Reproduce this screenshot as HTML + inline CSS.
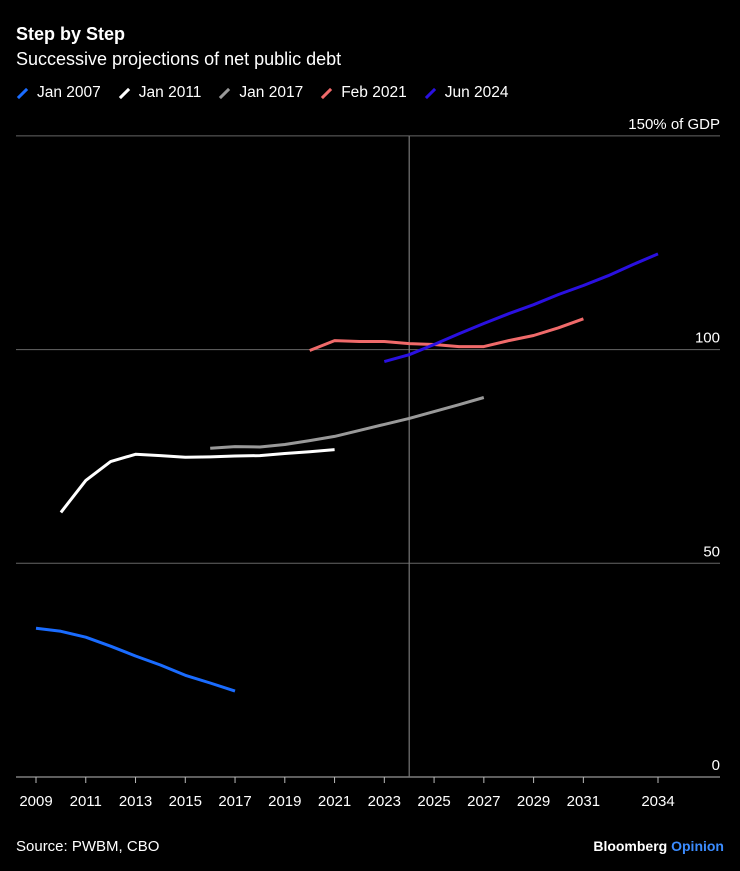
<!DOCTYPE html>
<html><head><meta charset="utf-8">
<style>
html,body{margin:0;padding:0;background:#000;width:740px;height:871px;overflow:hidden;font-family:"Liberation Sans",Arial,sans-serif;color:#fff}
#title{position:absolute;left:16px;top:24px;font-size:18px;font-weight:bold}
#subtitle{position:absolute;left:16px;top:49px;font-size:18px}
#legend{position:absolute;left:16px;top:84px;font-size:15.5px;display:flex;gap:17px}
.li{display:flex;align-items:center;gap:8px}
.sw{width:13px;height:3px;transform:rotate(-45deg)}
#source{position:absolute;left:16px;top:838px;font-size:15px}
#brand{position:absolute;right:16px;top:838px;font-size:14px;font-weight:bold}
svg{position:absolute;left:0;top:0}
</style></head><body>
<div id="title">Step by Step</div>
<div id="subtitle">Successive projections of net public debt</div>
<div id="legend">
<div class="li"><div class="sw" style="background:#1a6cff"></div>Jan 2007</div>
<div class="li"><div class="sw" style="background:#fff"></div>Jan 2011</div>
<div class="li"><div class="sw" style="background:#999"></div>Jan 2017</div>
<div class="li"><div class="sw" style="background:#f06a6a"></div>Feb 2021</div>
<div class="li"><div class="sw" style="background:#2a10e0"></div>Jun 2024</div>
</div>
<svg id="chart" width="740" height="871"></svg>
<div id="source">Source: PWBM, CBO</div>
<div id="brand">Bloomberg <span style="color:#3b8cff">Opinion</span></div>
<script>
const yTicks=[0,50,100,150];
const yTickLabels=["0","50","100","150% of GDP"];
const xTicks=[2009,2011,2013,2015,2017,2019,2021,2023,2025,2027,2029,2031,2034];
const markerYear=2024;
const names=["jan-2007","jan-2011","jan-2017","feb-2021","jun-2024"];
const colors=["#1a6cff","#ffffff","#999999","#f06a6a","#2a10e0"];
const startYears=[2009,2010,2016,2020,2023];
const s2007=[34.8,34.1,32.7,30.6,28.3,26.2,23.8,22.0,20.1];
const s2011=[61.9,69.4,73.8,75.5,75.2,74.8,74.9,75.1,75.2,75.7,76.1,76.6];
const s2017=[76.9,77.3,77.2,77.8,78.7,79.7,81.1,82.5,83.9,85.5,87.1,88.8];
const s2021=[99.8,102.1,101.9,101.9,101.4,101.2,100.7,100.7,102.1,103.3,105.1,107.2];
const s2024=[97.2,98.8,101.2,103.7,106.1,108.4,110.5,112.9,115.0,117.3,119.9,122.4];
const series=[s2007,s2011,s2017,s2021,s2024];
const X=y=>36+(y-2009)*24.88;
const Y=v=>777-v*4.274;
const NS="http://www.w3.org/2000/svg";
const svg=document.getElementById('chart');
function mk(t,a){const e=document.createElementNS(NS,t);for(const k in a)e.setAttribute(k,a[k]);svg.appendChild(e);return e;}
yTicks.forEach((v,i)=>{
 const l=mk('line',{x1:16,x2:720,y1:Y(v),y2:Y(v),stroke:v===0?'#bbb':'#666','stroke-width':1});
 
 
 const t=mk('text',{x:720,y:Y(v)-7,'text-anchor':'end',fill:'#fff','font-size':15});
 t.textContent=yTickLabels[i];
 
 
});
const vl=mk('line',{x1:X(markerYear),x2:X(markerYear),y1:136,y2:Y(0),stroke:'#777','stroke-width':1.2});


xTicks.forEach(y=>{
 const l=mk('line',{x1:X(y),x2:X(y),y1:Y(0),y2:Y(0)+6,stroke:'#bbb'});
 
 
 const t=mk('text',{x:X(y),y:806,'text-anchor':'middle',fill:'#fff','font-size':15});
 t.textContent=y;
 
 
});
series.forEach((s,i)=>{
 const pts=s.map((v,j)=>X(startYears[i]+j).toFixed(1)+','+Y(v).toFixed(1)).join(' ');
 const p=mk('polyline',{points:pts,fill:'none',stroke:colors[i],'stroke-width':3,'stroke-linejoin':'round'});
 
 
});
</script>
</body></html>
